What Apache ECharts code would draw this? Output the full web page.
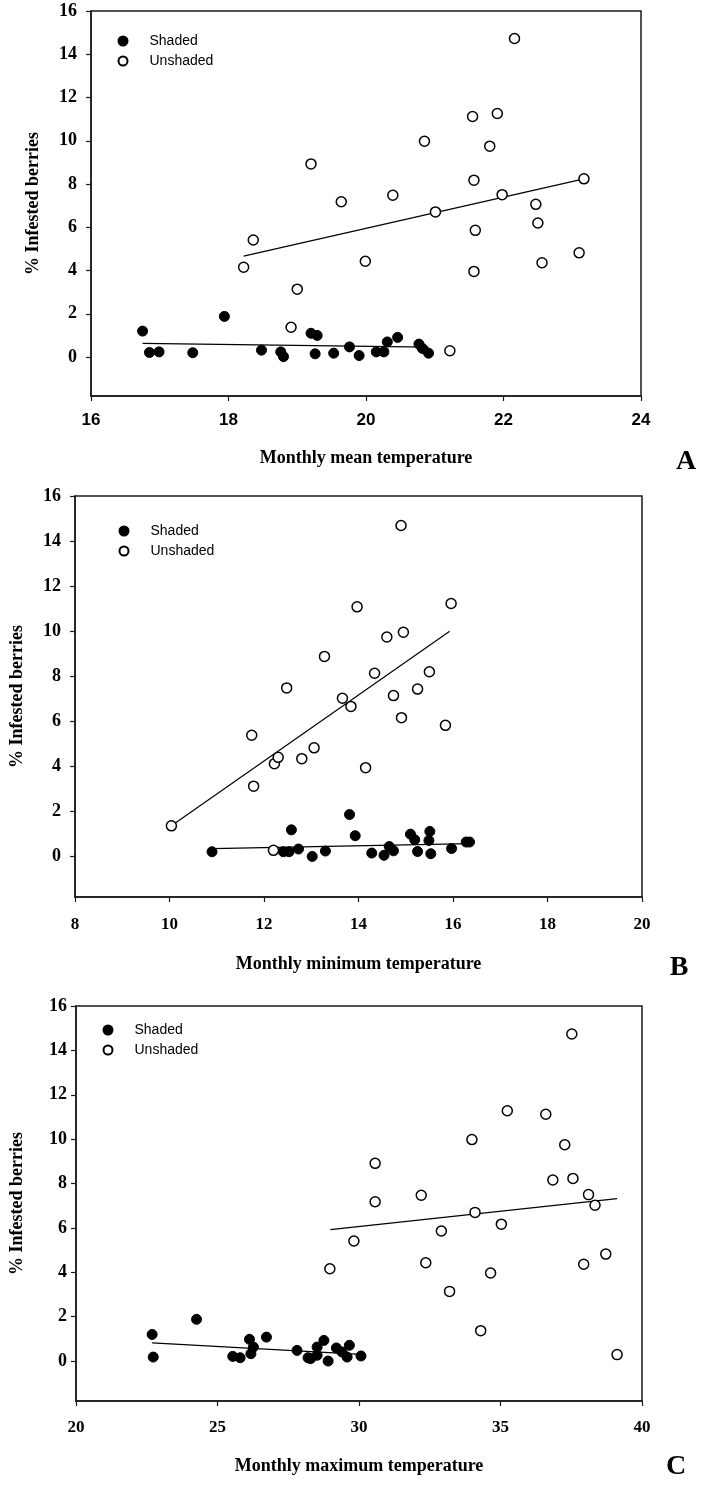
<!DOCTYPE html>
<html>
<head>
<meta charset="utf-8">
<script src="https://cdn.jsdelivr.net/npm/echarts@6/dist/echarts.min.js"></script>
<style>
  html, body { margin: 0; padding: 0; background: #fff; }
  #chart { width: 702px; height: 1487px; }
</style>
</head>
<body>
<div id="chart"></div>
<script>
// y ticks shared by the three panels
const yTicks = [0, 2, 4, 6, 8, 10, 12, 14, 16]

// panel A - monthly mean temperature
const shadedA = [[16.75, 1.2], [16.85, 0.21], [16.99, 0.24], [17.48, 0.2], [17.94, 1.88], [18.48, 0.32], [18.76, 0.24], [18.8, 0.02], [19.2, 1.1], [19.29, 1.0], [19.26, 0.15], [19.53, 0.18], [19.76, 0.47], [19.9, 0.07], [20.15, 0.24], [20.26, 0.24], [20.31, 0.7], [20.46, 0.91], [20.77, 0.6], [20.82, 0.4], [20.91, 0.18]]
const unshadedA = [[18.22, 4.15], [18.36, 5.41], [18.91, 1.38], [19.0, 3.14], [19.2, 8.93], [19.64, 7.18], [19.99, 4.43], [20.39, 7.48], [20.85, 9.98], [21.01, 6.71], [21.22, 0.29], [21.55, 11.12], [21.57, 8.18], [21.59, 5.86], [21.57, 3.96], [21.8, 9.75], [21.91, 11.26], [21.98, 7.51], [22.16, 14.73], [22.47, 7.06], [22.5, 6.2], [22.56, 4.36], [23.1, 4.82], [23.17, 8.24]]
const fitShadedA = [[16.75, 0.63], [20.91, 0.46]]
const fitUnshadedA = [[18.22, 4.67], [23.17, 8.24]]

// panel B - monthly minimum temperature
const shadedB = [[10.9, 0.21], [12.41, 0.21], [12.53, 0.21], [12.58, 1.18], [12.73, 0.33], [13.02, 0.0], [13.3, 0.24], [13.81, 1.86], [13.93, 0.92], [14.28, 0.15], [14.54, 0.05], [14.65, 0.44], [14.74, 0.25], [15.1, 0.99], [15.19, 0.74], [15.25, 0.22], [15.49, 0.71], [15.51, 1.11], [15.53, 0.12], [15.97, 0.35], [16.28, 0.64], [16.35, 0.64]]
const unshadedB = [[10.04, 1.36], [11.74, 5.38], [11.78, 3.12], [12.2, 0.27], [12.22, 4.12], [12.3, 4.4], [12.48, 7.48], [12.8, 4.34], [13.06, 4.82], [13.28, 8.88], [13.66, 7.02], [13.84, 6.66], [13.97, 11.08], [14.15, 3.94], [14.34, 8.13], [14.6, 9.74], [14.74, 7.14], [14.9, 14.69], [14.91, 6.16], [14.95, 9.95], [15.25, 7.43], [15.5, 8.2], [15.84, 5.82], [15.96, 11.23]]
const fitShadedB = [[10.9, 0.35], [16.35, 0.57]]
const fitUnshadedB = [[10.04, 1.36], [15.93, 10.0]]

// panel C - monthly maximum temperature
const shadedC = [[22.69, 1.2], [22.73, 0.18], [24.26, 1.88], [25.54, 0.21], [25.8, 0.15], [26.13, 0.98], [26.18, 0.33], [26.27, 0.63], [26.73, 1.08], [27.81, 0.48], [28.2, 0.15], [28.29, 0.11], [28.52, 0.26], [28.52, 0.63], [28.76, 0.93], [28.91, 0.0], [29.2, 0.59], [29.4, 0.41], [29.58, 0.18], [29.66, 0.71], [30.07, 0.23]]
const unshadedC = [[28.97, 4.16], [29.82, 5.41], [30.57, 8.91], [30.57, 7.18], [32.2, 7.47], [32.36, 4.43], [32.91, 5.86], [33.2, 3.14], [33.99, 9.98], [34.1, 6.7], [34.3, 1.37], [34.65, 3.97], [35.03, 6.17], [35.24, 11.28], [36.6, 11.12], [36.85, 8.16], [37.27, 9.75], [37.52, 14.74], [37.56, 8.23], [37.94, 4.36], [38.11, 7.5], [38.34, 7.02], [38.72, 4.82], [39.12, 0.29]]
const fitShadedC = [[22.69, 0.82], [30.07, 0.3]]
const fitUnshadedC = [[28.99, 5.92], [39.12, 7.32]]

const xTitles = ['Monthly mean temperature', 'Monthly minimum temperature', 'Monthly maximum temperature']
const panelLetters = ['A', 'B', 'C']

const serif = '"Liberation Serif", "Times New Roman", serif'
const sans = '"Liberation Sans", Arial, sans-serif'
const ink = '#1a1a1a'

const panels = [
    { grid: { left: 91, top: 11, width: 550, height: 385 }, x: [16, 24, 2], xFont: sans, xMargin: 16, yMargin: 14, nameGap: 53, yNameGap: 49, legend: [117.5, 34], letter: [686, 462], shaded: shadedA, unshaded: unshadedA, fitS: fitShadedA, fitU: fitUnshadedA },
    { grid: { left: 71, top: 496, width: 571, height: 401 }, x: [8, 20, 2], xFont: serif, xMargin: 19, yMargin: 14, nameGap: 58, yNameGap: 49, legend: [118.5, 524], letter: [679, 968], shaded: shadedB, unshaded: unshadedB, fitS: fitShadedB, fitU: fitUnshadedB },
    { grid: { left: 72, top: 1006, width: 570, height: 395 }, x: [20, 40, 5], xFont: serif, xMargin: 18, yMargin: 9, nameGap: 56, yNameGap: 50, legend: [102.5, 1023], letter: [676, 1467], shaded: shadedC, unshaded: unshadedC, fitS: fitShadedC, fitU: fitUnshadedC }
]

const option = {
    backgroundColor: '#fff',
    animation: false,
    grid: [],
    xAxis: [],
    yAxis: [],
    legend: [],
    series: [],
    graphic: []
}

panels.forEach((p, i) => {
    option.grid.push(Object.assign({ show: true, borderColor: ink, borderWidth: 1.5, backgroundColor: '#fff' }, p.grid))
    option.xAxis.push({
        type: 'value',
        gridIndex: i,
        min: p.x[0],
        max: p.x[1],
        interval: p.x[2],
        name: xTitles[i],
        nameLocation: 'middle',
        nameGap: p.nameGap,
        nameTextStyle: { fontFamily: serif, fontWeight: 'bold', fontSize: 18, color: '#000' },
        axisLine: { onZero: false, lineStyle: { color: ink, width: 1.5 } },
        axisTick: { inside: false, length: 5, lineStyle: { color: ink, width: 1.2 } },
        axisLabel: { margin: p.xMargin, fontFamily: p.xFont, fontWeight: 'bold', fontSize: 17, color: '#000' },
        splitLine: { show: false }
    })
    option.yAxis.push({
        type: 'value',
        gridIndex: i,
        min: -1.8,
        max: 16,
        name: '% Infested berries',
        nameLocation: 'middle',
        nameGap: p.yNameGap,
        nameTextStyle: { fontFamily: serif, fontWeight: 'bold', fontSize: 18, color: '#000' },
        axisLine: { onZero: false, lineStyle: { color: ink, width: 1.5 } },
        axisTick: { inside: false, length: 5, customValues: yTicks, lineStyle: { color: ink, width: 1.2 } },
        axisLabel: { margin: p.yMargin, customValues: yTicks, fontFamily: serif, fontWeight: 'bold', fontSize: 18, color: '#000' },
        splitLine: { show: false }
    })
    option.legend.push({
        orient: 'vertical',
        left: p.legend[0],
        top: p.legend[1],
        padding: 0,
        itemWidth: 9,
        itemHeight: 9,
        itemGap: 6,
        selectedMode: false,
        data: ['Shaded', 'Unshaded'],
        textStyle: { fontFamily: sans, fontSize: 14, lineHeight: 14, color: '#000', padding: [0, 0, 0, 17] }
    })
    option.series.push(
        {
            name: 'Shaded',
            type: 'scatter',
            xAxisIndex: i,
            yAxisIndex: i,
            symbol: 'circle',
            symbolSize: 10,
            itemStyle: { color: '#000', borderColor: '#000', borderWidth: 1, opacity: 1 },
            data: p.shaded,
            z: 3
        },
        {
            name: 'Unshaded',
            type: 'scatter',
            xAxisIndex: i,
            yAxisIndex: i,
            symbol: 'circle',
            symbolSize: 10,
            itemStyle: { color: '#fff', borderColor: '#000', borderWidth: 1.5, opacity: 1 },
            data: p.unshaded,
            z: 3
        },
        {
            name: 'fit shaded',
            type: 'line',
            xAxisIndex: i,
            yAxisIndex: i,
            showSymbol: false,
            silent: true,
            lineStyle: { color: '#000', width: 1.2 },
            data: p.fitS,
            z: 2
        },
        {
            name: 'fit unshaded',
            type: 'line',
            xAxisIndex: i,
            yAxisIndex: i,
            showSymbol: false,
            silent: true,
            lineStyle: { color: '#000', width: 1.2 },
            data: p.fitU,
            z: 2
        }
    )
    option.graphic.push({
        type: 'text',
        x: p.letter[0],
        y: p.letter[1],
        style: {
            text: panelLetters[i],
            fontFamily: serif,
            fontWeight: 'bold',
            fontSize: 28,
            fill: '#000',
            align: 'center',
            verticalAlign: 'middle'
        }
    })
})

const chart = echarts.init(document.getElementById('chart'))
chart.setOption(option)
</script>
</body>
</html>
